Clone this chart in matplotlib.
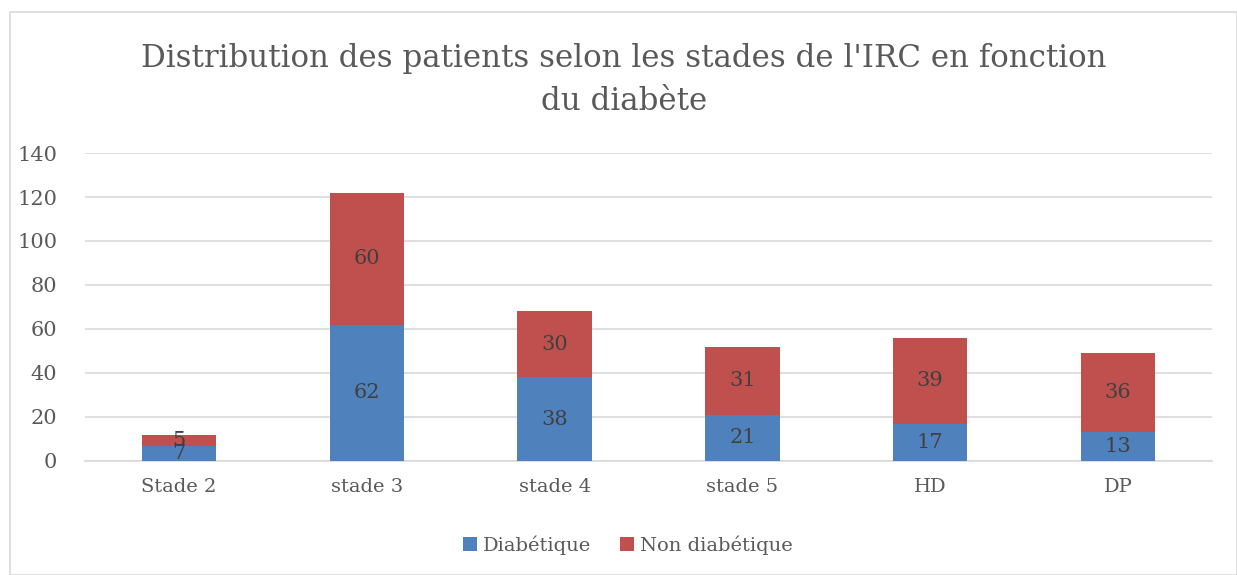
import matplotlib
matplotlib.use("Agg")
import matplotlib.pyplot as plt
from matplotlib.patches import Rectangle
import numpy as np

categories = ["Stade 2", "stade 3", "stade 4", "stade 5", "HD", "DP"]
diabetique = [7, 62, 38, 21, 17, 13]
non_diabetique = [5, 60, 30, 31, 39, 36]
yticks = [0, 20, 40, 60, 80, 100, 120, 140]

BLUE = "#4F81BD"
RED = "#C0504D"
TXT = "#595959"
GRID = "#D9D9D9"
serif = ["DejaVu Serif", "Liberation Serif"]

fig = plt.figure(figsize=(12.37, 5.75), dpi=100)
fig.patches.append(Rectangle((10/1237, 0), 1 - 10/1237, 1 - 12/575, transform=fig.transFigure,
                             fill=False, edgecolor=GRID, linewidth=1.2))
ax = fig.add_axes([85/1237, 114/575, (1212-85)/1237, (461-153)/575])

x = np.arange(len(categories))
w = 0.395
b1 = ax.bar(x, diabetique, w, color=BLUE, label="Diabétique", zorder=3)
b2 = ax.bar(x, non_diabetique, w, bottom=diabetique, color=RED, label="Non diabétique", zorder=3)

for i in range(len(categories)):
    ax.text(x[i], diabetique[i] / 2, str(diabetique[i]), ha="center", va="center",
            fontsize=15, color="#404040", family=serif, zorder=4)
    ax.text(x[i], diabetique[i] + non_diabetique[i] / 2, str(non_diabetique[i]), ha="center",
            va="center", fontsize=15, color="#404040", family=serif, zorder=4)

ax.set_xlim(-0.5, len(categories) - 0.5)
ax.set_ylim(0, 140)
ax.set_yticks(yticks)
ax.set_yticklabels([str(t) for t in yticks], family=serif, fontsize=15, color=TXT)
ax.set_xticks(x)
ax.set_xticklabels(categories, family=serif, fontsize=14, color=TXT)
ax.tick_params(axis="both", length=0)
ax.tick_params(axis="y", pad=20)
ax.tick_params(axis="x", pad=12)
ax.grid(axis="y", color=GRID, linewidth=1.2, zorder=0)
for s in ["top", "right", "left"]:
    ax.spines[s].set_visible(False)
ax.spines["bottom"].set_color(GRID)
ax.spines["bottom"].set_linewidth(1.2)

fig.text(624/1237, 1 - 58/575, "Distribution des patients selon les stades de l'IRC en fonction",
         ha="center", va="center", fontsize=22.2, color=TXT, family=serif)
fig.text(624/1237, 1 - 101/575, "du diabète", ha="center", va="center", fontsize=22.2,
         color=TXT, family=serif)

leg = fig.legend(handles=[b1, b2], loc="center", bbox_to_anchor=(628/1237, 1 - 545/575),
                 ncol=2, frameon=False, prop={"family": serif, "size": 14},
                 handlelength=0.7, handleheight=0.7, handletextpad=0.3, columnspacing=1.5)
for t in leg.get_texts():
    t.set_color(TXT)

fig.savefig("out.png", dpi=100)
